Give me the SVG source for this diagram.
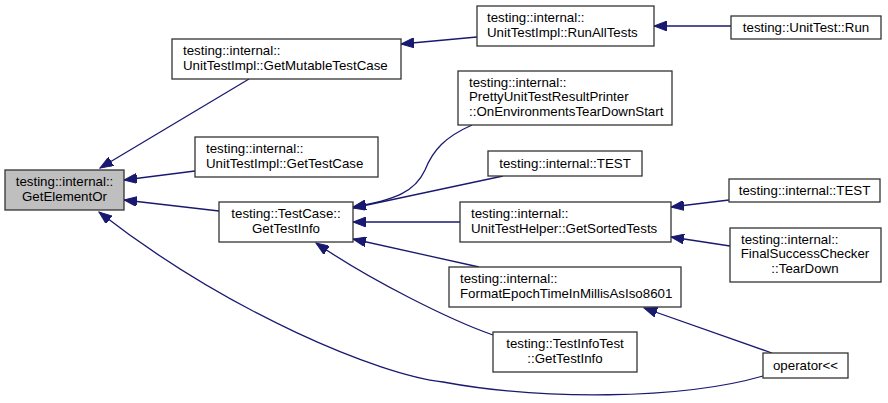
<svg xmlns="http://www.w3.org/2000/svg" width="888" height="403" viewBox="0 0 888 403">
<style>
.n rect{fill:#ffffff;stroke:#333333;stroke-width:1.3}
.n.sel rect{fill:#bfbfbf}
.n text{font-family:"Liberation Sans",Arial,sans-serif;font-size:13.3px;fill:#000000}
.m{text-anchor:middle}
.e path{fill:none;stroke:#191970;stroke-width:1.3;marker-end:url(#ah)}
</style>
<defs>
<marker id="ah" markerUnits="userSpaceOnUse" markerWidth="14" markerHeight="10" refX="13" refY="5" orient="auto">
<path d="M0,0 L13,5 L0,10 z" fill="#191970" stroke="#191970"/>
</marker>
</defs>
<rect width="888" height="403" fill="#ffffff"/>
<g id="connectors" class="e">
<path d="M249,79 L100,168"/>
<path d="M195,171 L124,180"/>
<path d="M219,211 L124,200"/>
<path d="M763,376 C680,400 540,400 443,382 C380,375 230,314 99,212"/>
<path d="M477,37 L401,44"/>
<path d="M731,26 L654,26"/>
<path d="M472,125 C445,137 433,150 425,170 C415,192 395,200 353,207"/>
<path d="M503,176 L353,208"/>
<path d="M460,222 L353,222"/>
<path d="M479,267 L353,239"/>
<path d="M493,335 C450,320 370,280 316,243"/>
<path d="M729,200 L671,207"/>
<path d="M730,246 L671,237"/>
<path d="M772,353 L644,308"/>
</g>
<g id="n0" class="n sel"><rect x="5" y="170" width="119" height="40"/><text class="m" x="64.5" y="186">testing::internal::</text><text class="m" x="64.5" y="200.5">GetElementOr</text></g>
<g id="n1" class="n"><rect x="172" y="39" width="229" height="40"/><text x="183" y="55">testing::internal::</text><text x="183" y="69.5">UnitTestImpl::GetMutableTestCase</text></g>
<g id="n2" class="n"><rect x="195" y="137" width="183" height="40"/><text x="206" y="153">testing::internal::</text><text x="206" y="167.5">UnitTestImpl::GetTestCase</text></g>
<g id="n3" class="n"><rect x="219" y="202" width="134" height="40"/><text class="m" x="286" y="218">testing::TestCase::</text><text class="m" x="286" y="232.5">GetTestInfo</text></g>
<g id="n4" class="n"><rect x="477" y="6" width="177" height="40"/><text x="487" y="22">testing::internal::</text><text x="487" y="36.5">UnitTestImpl::RunAllTests</text></g>
<g id="n5" class="n"><rect x="731" y="16" width="150" height="23"/><text class="m" x="806" y="31.8">testing::UnitTest::Run</text></g>
<g id="n6" class="n"><rect x="458" y="71" width="214" height="54"/><text x="469" y="86.5">testing::internal::</text><text x="469" y="101">PrettyUnitTestResultPrinter</text><text x="469" y="115.5">::OnEnvironmentsTearDownStart</text></g>
<g id="n7" class="n"><rect x="488" y="151" width="154" height="25"/><text class="m" x="565" y="168">testing::internal::TEST</text></g>
<g id="n8" class="n"><rect x="729" y="179" width="151" height="23"/><text class="m" x="804.5" y="195">testing::internal::TEST</text></g>
<g id="n9" class="n"><rect x="460" y="202" width="211" height="40"/><text x="471" y="218">testing::internal::</text><text x="471" y="232.5">UnitTestHelper::GetSortedTests</text></g>
<g id="n10" class="n"><rect x="730" y="228" width="151" height="54"/><text x="741" y="243.5">testing::internal::</text><text class="m" x="805" y="258">FinalSuccessChecker</text><text class="m" x="805" y="272.5">::TearDown</text></g>
<g id="n11" class="n"><rect x="449" y="267" width="232" height="40"/><text x="460" y="283">testing::internal::</text><text x="460" y="297.5">FormatEpochTimeInMillisAsIso8601</text></g>
<g id="n12" class="n"><rect x="493" y="332" width="144" height="40"/><text class="m" x="565" y="348">testing::TestInfoTest</text><text class="m" x="565" y="362.5">::GetTestInfo</text></g>
<g id="n13" class="n"><rect x="763" y="353" width="85" height="25"/><text class="m" x="805.5" y="370">operator&lt;&lt;</text></g>
</svg>
